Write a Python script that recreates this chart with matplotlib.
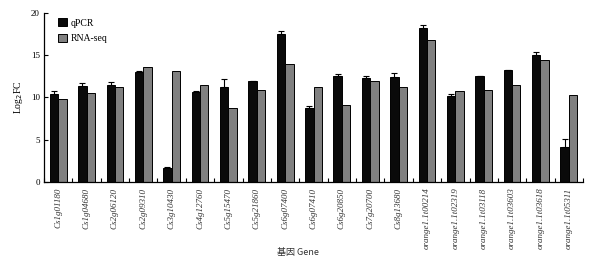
import numpy as np
import matplotlib
matplotlib.use("Agg")
import matplotlib.pyplot as plt

genes = ["Cs1g01180", "Cs1g04680", "Cs2g06120", "Cs2g09310", "Cs3g10430",
         "Cs4g12760", "Cs5g15470", "Cs5g21860", "Cs6g07400", "Cs6g07410",
         "Cs6g20850", "Cs7g20700", "Cs8g13680", "orange1.1t00214",
         "orange1.1t02319", "orange1.1t03118", "orange1.1t03603",
         "orange1.1t03618", "orange1.1t05311"]
qpcr = [10.4, 11.35, 11.45, 13.05, 1.7, 10.7, 11.25, 11.9, 17.55, 8.75,
        12.55, 12.3, 12.45, 18.25, 10.15, 12.55, 13.25, 15.05, 4.15]
qpcr_err = [0.35, 0.35, 0.35, 0.1, 0.05, 0.1, 0.9, 0.1, 0.3, 0.25,
            0.25, 0.3, 0.45, 0.3, 0.25, 0.0, 0.0, 0.3, 0.9]
rnaseq = [9.8, 10.5, 11.2, 13.6, 13.1, 11.45, 8.75, 10.9, 13.95, 11.2,
          9.1, 12.0, 11.2, 16.8, 10.8, 10.9, 11.45, 14.4, 10.3]

plt.rcParams["font.family"] = ["Liberation Serif", "DejaVu Serif"]

fig = plt.figure(figsize=(6.05, 2.8), dpi=100)
ax = fig.add_axes([44 / 605, 1 - 182 / 280, (583 - 44) / 605, (182 - 13) / 280])

x = np.arange(len(genes))
w = 0.295
ax.bar(x - w / 2, qpcr, w, color="#0a0a0a", edgecolor="black", linewidth=0.7,
       label="qPCR", zorder=2)
ax.errorbar(x - w / 2, qpcr, yerr=[np.zeros(len(qpcr)), qpcr_err], fmt="none",
            ecolor="black", elinewidth=0.8, capsize=2.2, capthick=0.8, zorder=3)
ax.bar(x + w / 2, rnaseq, w, color="#808080", edgecolor="black", linewidth=0.7,
       label="RNA-seq", zorder=2)

ax.set_xlim(-0.5, len(genes) - 0.5)
ax.set_ylim(0, 20)
ax.set_yticks([0, 5, 10, 15, 20])
ax.tick_params(axis="y", direction="in", length=3, width=0.8, labelsize=6.5, pad=3)
ax.set_xticks(x)
ax.set_xticklabels(genes, rotation=90, fontstyle="italic", fontsize=6.5, color="#333333")
ax.tick_params(axis="x", which="major", length=0, pad=4)
ax.set_xticks(np.arange(len(genes) + 1) - 0.5, minor=True)
ax.tick_params(axis="x", which="minor", direction="in", length=3, width=0.8)
for s in ["top", "right"]:
    ax.spines[s].set_visible(False)
for s in ["left", "bottom"]:
    ax.spines[s].set_linewidth(0.9)

ax.set_ylabel("Log$_2$FC", fontsize=7, labelpad=4)
fig.text(298 / 605, 1 - 253 / 280, "基因 Gene", ha="center", va="center",
         fontsize=6.5, family=["Noto Sans CJK SC", "DejaVu Sans"], color="#333333")

ax.legend(loc="upper left", bbox_to_anchor=(0.01, 1.02), frameon=False, fontsize=7,
          handlelength=0.9, handleheight=0.9, handletextpad=0.4, labelspacing=0.6)

fig.savefig("out.png", dpi=100)
